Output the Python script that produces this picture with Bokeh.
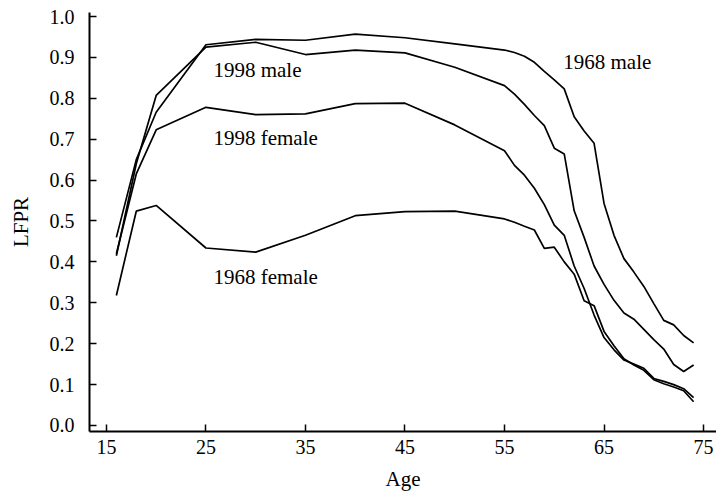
from bokeh.plotting import figure
from bokeh.models import Range1d, FixedTicker, PrintfTickFormatter
from bokeh.core.properties import value
from bokeh.embed import file_html
from bokeh.resources import INLINE

ages = [16, 18, 20, 25, 30, 35, 40, 45, 50, 55, 56, 57, 58, 59, 60, 61, 62, 63,
        64, 65, 66, 67, 68, 69, 70, 71, 72, 73, 74]

male_1968 = [0.460, 0.650, 0.766, 0.931, 0.944, 0.942, 0.957, 0.948, 0.933, 0.918,
             0.912, 0.903, 0.888, 0.866, 0.845, 0.823, 0.755, 0.720, 0.690, 0.543,
             0.465, 0.408, 0.375, 0.340, 0.298, 0.257, 0.246, 0.220, 0.202]

male_1998 = [0.415, 0.640, 0.807, 0.925, 0.937, 0.907, 0.918, 0.911, 0.876, 0.831,
             0.810, 0.785, 0.758, 0.733, 0.678, 0.664, 0.525, 0.460, 0.390, 0.345,
             0.306, 0.275, 0.260, 0.235, 0.210, 0.187, 0.149, 0.132, 0.148]

female_1998 = [0.420, 0.615, 0.723, 0.778, 0.760, 0.762, 0.787, 0.788, 0.735, 0.672,
               0.636, 0.612, 0.580, 0.540, 0.490, 0.465, 0.390, 0.335, 0.270, 0.215,
               0.185, 0.160, 0.150, 0.140, 0.115, 0.108, 0.100, 0.090, 0.068]

female_1968 = [0.318, 0.524, 0.538, 0.434, 0.424, 0.465, 0.513, 0.523, 0.524, 0.505,
               0.497, 0.487, 0.478, 0.433, 0.436, 0.400, 0.370, 0.305, 0.293, 0.230,
               0.195, 0.163, 0.148, 0.135, 0.112, 0.102, 0.094, 0.085, 0.058]

x_ticks = [15, 25, 35, 45, 55, 65, 75]
y_ticks = [0.0, 0.1, 0.2, 0.3, 0.4, 0.5, 0.6, 0.7, 0.8, 0.9, 1.0]

label_text = ["1998 male", "1998 female", "1968 female", "1968 male"]
label_x = [25.75, 25.75, 25.75, 60.9]
label_y = [0.868, 0.704, 0.362, 0.888]

FONT = "Liberation Serif"

p = figure(width=716, height=493, output_backend="svg", toolbar_location=None,
           x_range=Range1d(13.3, 76.3), y_range=Range1d(-0.0147, 1.0098),
           min_border_left=89, min_border_right=0, min_border_top=12,
           min_border_bottom=62)

p.outline_line_color = None
p.xgrid.grid_line_color = None
p.ygrid.grid_line_color = None
p.background_fill_color = "white"
p.border_fill_color = "white"

for series in [male_1968, male_1998, female_1998, female_1968]:
    p.line(ages, series, line_color="black", line_width=1.7)

p.text(x=label_x, y=label_y, text=label_text, text_font=value(FONT),
       text_font_size="21px", text_align="left", text_baseline="middle",
       text_color="black")

for ax in [p.xaxis[0], p.yaxis[0]]:
    ax.axis_line_width = 2
    ax.axis_line_color = "black"
    ax.major_tick_in = 7
    ax.major_tick_out = 0
    ax.major_tick_line_width = 1.5
    ax.minor_tick_line_color = None
    ax.major_label_text_font = FONT
    ax.major_label_text_font_size = "20px"
    ax.major_label_text_color = "black"
    ax.axis_label_text_font = FONT
    ax.axis_label_text_font_size = "21px"
    ax.axis_label_text_font_style = "normal"
    ax.axis_label_text_color = "black"

p.xaxis.ticker = FixedTicker(ticks=x_ticks)
p.yaxis.ticker = FixedTicker(ticks=y_ticks)
p.yaxis.formatter = PrintfTickFormatter(format="%.1f")
p.xaxis.axis_label = "Age"
p.yaxis.axis_label = "LFPR"
p.xaxis.major_label_standoff = 8
p.yaxis.major_label_standoff = 15
p.xaxis.axis_label_standoff = 10
p.yaxis.axis_label_standoff = 14

open("out.html", "w").write(file_html(p, INLINE))
